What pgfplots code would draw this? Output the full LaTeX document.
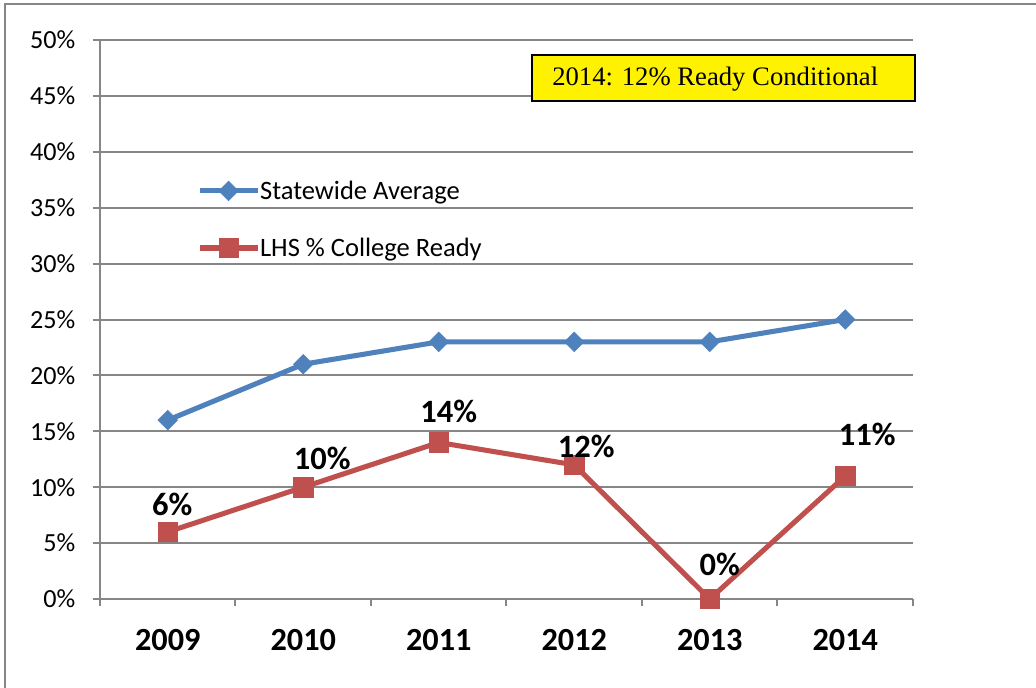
\documentclass[border=0pt]{standalone}
\usepackage{pgfplots}
\pgfplotsset{compat=1.18}
\usepackage{pgfplotstable}
\usepackage{fontspec}
\setmainfont{Carlito}
\newfontfamily\timesf{Liberation Serif}
\definecolor{sblue}{RGB}{79,129,189}
\definecolor{sred}{RGB}{192,80,77}
\definecolor{gridg}{RGB}{134,134,134}

\pgfplotstableread{
x y
0 16
1 21
2 23
3 23
4 23
5 25
}\statewide

\pgfplotstableread{
x y dx dy
0 6 3.4 20.3
1 10 14.3 21.8
2 14 7.5 23.3
3 12 9 13.5
4 0 7.5 25.9
5 11 16.5 31.5
}\lhs

\begin{document}
\begin{tikzpicture}
\useasboundingbox (-75pt,-66pt) rectangle (702pt,449.25pt);
\draw[gridg, line width=1.5pt] (-71.25pt,-70pt) -- (-71.25pt,446.25pt) -- (710pt,446.25pt);
\begin{axis}[
  scale only axis, width=609.75pt, height=419.25pt,
  at={(0pt,0pt)}, anchor=south west,
  xmin=-0.5, xmax=5.5, ymin=0, ymax=50,
  axis x line=bottom, axis y line=left,
  axis line style={-, draw=gridg, line width=1.5pt},
  ytick={0,5,10,15,20,25,30,35,40,45,50},
  yticklabels={0\%,5\%,10\%,15\%,20\%,25\%,30\%,35\%,40\%,45\%,50\%},
  yticklabel style={font=\fontsize{19.6}{23}\selectfont, text=black, xshift=-9.5pt},
  ymajorgrids, grid style={gridg, line width=1.5pt},
  xtick={-0.5,0.5,1.5,2.5,3.5,4.5,5.5}, xticklabels={},
  extra x ticks={0,1,2,3,4,5},
  extra x tick labels={2009,2010,2011,2012,2013,2014},
  extra x tick style={major tick length=0pt, grid=none,
     tick label style={font=\bfseries\fontsize{24.2}{29}\selectfont, text=black, yshift=-19.5pt}},
  tick align=outside, major tick length=5.5pt,
  tick style={gridg, line width=1.5pt},
  clip=false,
  legend cell align=left,
  legend style={draw=none, fill=none, at={(axis description cs:0.119,0.679)}, anchor=west,
     inner sep=0pt, row sep=27.5pt, font=\fontsize{19.9}{24}\selectfont,
     nodes={inner sep=0pt}, /tikz/every even column/.append style={column sep=2.5pt}},
  legend image code/.code={\draw[#1, mark repeat=2, mark phase=2] plot coordinates {(0pt,0pt)(21.75pt,0pt)(43.5pt,0pt)};},
]
\addlegendimage{sblue, line width=3.8pt, mark=square*, mark size=5.2pt,
  mark options={solid, rotate=45, fill=sblue, draw=sblue, line width=0.4pt}}
\addlegendentry{Statewide Average}
\addlegendimage{sred, line width=3.8pt, mark=square*, mark size=7.3pt,
  mark options={solid, fill=sred, draw=sred, line width=0.4pt}}
\addlegendentry{LHS \% College Ready}
\addplot[forget plot, sblue, line width=3.8pt, mark=square*, mark size=5.2pt,
  mark options={solid, rotate=45, fill=sblue, draw=sblue, line width=0.4pt}]
  table[x=x, y=y] {\statewide};
\addplot[forget plot, sred, line width=3.8pt, mark=square*, mark size=7.3pt,
  mark options={solid, fill=sred, draw=sred, line width=0.4pt},
  point meta=explicit symbolic,
  visualization depends on={\thisrow{dx} \as \mydx},
  visualization depends on={\thisrow{dy} \as \mydy},
  nodes near coords={\pgfplotspointmeta\%},
  nodes near coords style={anchor=center, inner sep=0pt, xshift=\mydx pt, yshift=\mydy pt,
     font=\bfseries\fontsize{24.4}{29}\selectfont, text=black}]
  table[x=x, y=y, meta=y] {\lhs};
\end{axis}
\draw[black, line width=1.2pt, fill=yellow] (324pt,373.5pt) rectangle (611.25pt,408pt);
\node[anchor=base west, inner sep=0pt, font=\timesf\fontsize{20}{24}\selectfont] at (339pt,384.75pt) {2014: 12\% Ready Conditional};
\end{tikzpicture}
\end{document}
